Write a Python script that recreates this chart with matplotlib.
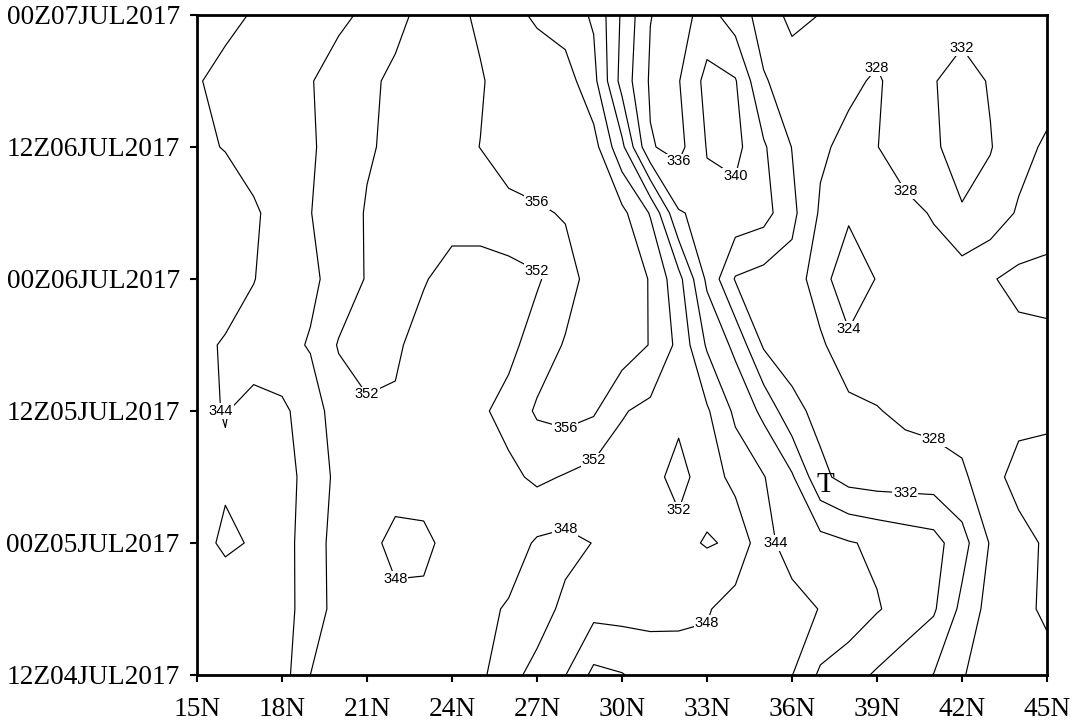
import numpy as np
import matplotlib
matplotlib.use("Agg")
import matplotlib.pyplot as plt

# ---------------- data ----------------
lats = np.arange(15, 46)          # 15N .. 45N, 1 degree
hours = np.arange(0, 61, 6)       # hours after 12Z04JUL2017, 6-hourly

#                15     16     17     18     19     20     21     22     23     24     25     26     27     28     29     30     31     32     33     34     35     36     37     38     39     40     41     42     43     44     45
theta_12z04 = [342.5, 343.0, 343.3, 342.3, 348.0, 349.5, 350.0, 350.0, 349.8, 349.3, 348.3, 347.0, 349.0, 348.1, 343.0, 343.8, 345.5, 346.0, 346.5, 346.3, 345.5, 344.1, 339.3, 337.5, 335.5, 333.5, 331.9, 328.3, 326.0, 325.5, 325.0]
theta_18z04 = [342.8, 342.5, 343.0, 343.0, 345.2, 350.0, 350.5, 349.0, 349.0, 349.5, 349.0, 347.6, 346.5, 348.8, 349.3, 349.5, 349.3, 349.0, 348.4, 346.0, 345.5, 345.0, 343.9, 342.5, 340.3, 338.5, 336.5, 331.0, 326.5, 324.8, 323.5]
theta_00z05 = [343.2, 344.4, 343.8, 342.8, 345.5, 350.0, 349.3, 346.8, 347.0, 349.5, 350.0, 350.0, 347.5, 347.0, 348.1, 350.3, 351.0, 351.0, 352.3, 351.5, 344.9, 342.8, 341.5, 340.3, 339.3, 338.3, 337.5, 333.5, 327.7, 325.2, 323.5]
theta_06z05 = [342.5, 343.7, 343.5, 343.1, 344.8, 349.3, 350.5, 349.8, 350.0, 350.8, 350.5, 351.0, 352.8, 351.7, 350.5, 350.3, 351.0, 353.0, 350.5, 346.5, 344.2, 340.5, 333.0, 330.5, 330.0, 330.0, 330.0, 328.8, 325.2, 322.8, 322.5]
theta_12z05 = [343.5, 344.1, 343.2, 343.2, 346.0, 350.0, 351.5, 351.5, 350.5, 350.0, 351.3, 353.5, 356.5, 357.5, 356.5, 352.3, 351.0, 351.3, 348.5, 343.2, 339.0, 333.2, 330.8, 329.3, 328.2, 327.2, 326.5, 326.0, 325.5, 325.0, 324.8]
theta_18z05 = [343.5, 344.2, 345.2, 346.8, 348.3, 352.3, 353.5, 352.6, 350.5, 350.0, 350.3, 350.8, 354.0, 356.3, 358.0, 358.3, 355.8, 351.0, 343.5, 339.0, 331.5, 330.0, 328.8, 324.8, 325.8, 326.0, 326.0, 325.5, 325.5, 325.0, 325.0]
theta_00z06 = [342.0, 343.0, 343.9, 345.5, 347.2, 349.5, 352.3, 353.2, 352.3, 350.5, 350.0, 350.5, 351.5, 354.5, 357.5, 358.0, 355.8, 349.3, 339.2, 331.7, 330.5, 330.5, 325.5, 321.5, 324.2, 326.0, 326.5, 326.0, 324.3, 323.0, 322.5]
theta_06z06 = [342.0, 342.8, 343.6, 345.2, 347.9, 350.0, 352.3, 353.0, 353.3, 353.5, 354.0, 354.8, 355.5, 356.3, 357.5, 357.0, 351.7, 340.3, 339.0, 338.5, 337.5, 333.0, 327.5, 324.6, 326.5, 327.0, 328.3, 331.7, 330.5, 327.5, 326.5]
theta_12z06 = [343.6, 344.1, 345.2, 346.4, 347.6, 349.4, 351.6, 352.8, 353.8, 354.9, 356.05, 358.0, 358.5, 358.5, 357.5, 349.0, 336.3, 334.8, 340.2, 341.2, 336.5, 331.9, 328.6, 327.0, 327.9, 330.0, 331.5, 333.5, 332.2, 329.5, 327.3]
theta_18z06 = [343.8, 344.8, 345.8, 346.8, 347.8, 349.5, 351.3, 352.7, 353.7, 354.7, 355.7, 357.5, 358.0, 357.8, 353.2, 342.5, 335.5, 335.8, 341.2, 340.3, 332.3, 330.5, 329.8, 328.8, 327.5, 330.0, 331.8, 333.5, 331.7, 330.5, 330.0]
theta_00z07 = [342.5, 343.3, 344.2, 345.2, 346.3, 347.3, 348.6, 351.0, 353.0, 355.0, 356.6, 357.0, 355.5, 354.0, 351.5, 343.4, 336.1, 334.5, 337.5, 334.0, 330.5, 326.8, 328.1, 329.5, 330.0, 331.0, 331.0, 330.5, 330.0, 330.0, 330.0]

levels = np.arange(320, 364, 4)

ytick_hours = [0, 12, 24, 36, 48, 60]
ytick_labels = ['12Z04JUL2017', '00Z05JUL2017', '12Z05JUL2017',
                '00Z06JUL2017', '12Z06JUL2017', '00Z07JUL2017']
xtick_lats = [15, 18, 21, 24, 27, 30, 33, 36, 39, 42, 45]
xtick_labels = ['15N', '18N', '21N', '24N', '27N', '30N',
                '33N', '36N', '39N', '42N', '45N']

# where the contour labels sit: level -> list of approximate (lat, hour)
label_places = {
    324: [(38.1, 31.6)],
    328: [(39.1, 56.4), (40.8, 44.5), (41.3, 20.6)],
    332: [(42.0, 56.4), (39.7, 16.4)],
    336: [(32.3, 45.9)],
    340: [(33.8, 45.4)],
    344: [(15.5, 23.2), (35.2, 9.9)],
    348: [(21.8, 7.7), (27.7, 14.4), (32.9, 4.1)],
    352: [(21.0, 24.4), (27.0, 37.3), (29.3, 19.1), (32.2, 16.4)],
    356: [(27.0, 43.9), (27.8, 22.1)],
}

# ---------------- plot ----------------
field = np.array([theta_12z04, theta_18z04, theta_00z05, theta_06z05,
                  theta_12z05, theta_18z05, theta_00z06, theta_06z06,
                  theta_12z06, theta_18z06, theta_00z07])

plt.rcParams['font.family'] = ['Liberation Sans', 'DejaVu Sans']

W, H = 1077, 723
fig = plt.figure(figsize=(W / 100, H / 100), dpi=100)
ax = fig.add_axes([197 / W, 48 / H, 850 / W, 660 / H])

cs = ax.contour(lats, hours, field, levels=levels, colors='black',
                linewidths=0.85)
ax.set_xlim(15, 45)
ax.set_ylim(0, 60)

# put each label on the nearest point of its own contour level
level_list = list(cs.levels)
for lev, places in label_places.items():
    segs = cs.allsegs[level_list.index(lev)]
    pts = np.vstack([s for s in segs if len(s)])
    pts_px = ax.transData.transform(pts)
    for (px, py) in places:
        q = ax.transData.transform((px, py))
        k = np.argmin(((pts_px - q) ** 2).sum(axis=1))
        ax.text(pts[k, 0], pts[k, 1], '%d' % lev, fontsize=10.5,
                ha='center', va='center', zorder=5,
                bbox=dict(facecolor='white', edgecolor='none', pad=0.6))

ax.set_xticks(xtick_lats)
ax.set_xticklabels(xtick_labels, fontfamily='Liberation Serif', fontsize=19.7)
ax.set_yticks(ytick_hours)
ax.set_yticklabels(ytick_labels, fontfamily='Liberation Serif', fontsize=19.7)
ax.tick_params(axis='both', direction='out', length=5, width=1.5,
               top=False, right=False)
ax.tick_params(axis='x', pad=11)
ax.tick_params(axis='y', pad=7.5)
for sp in ax.spines.values():
    sp.set_linewidth(2.0)

ax.text(37.17, 17.3, 'T', fontfamily='Liberation Serif', fontsize=21,
        ha='center', va='center', zorder=6)

fig.savefig('out.png', dpi=100)
